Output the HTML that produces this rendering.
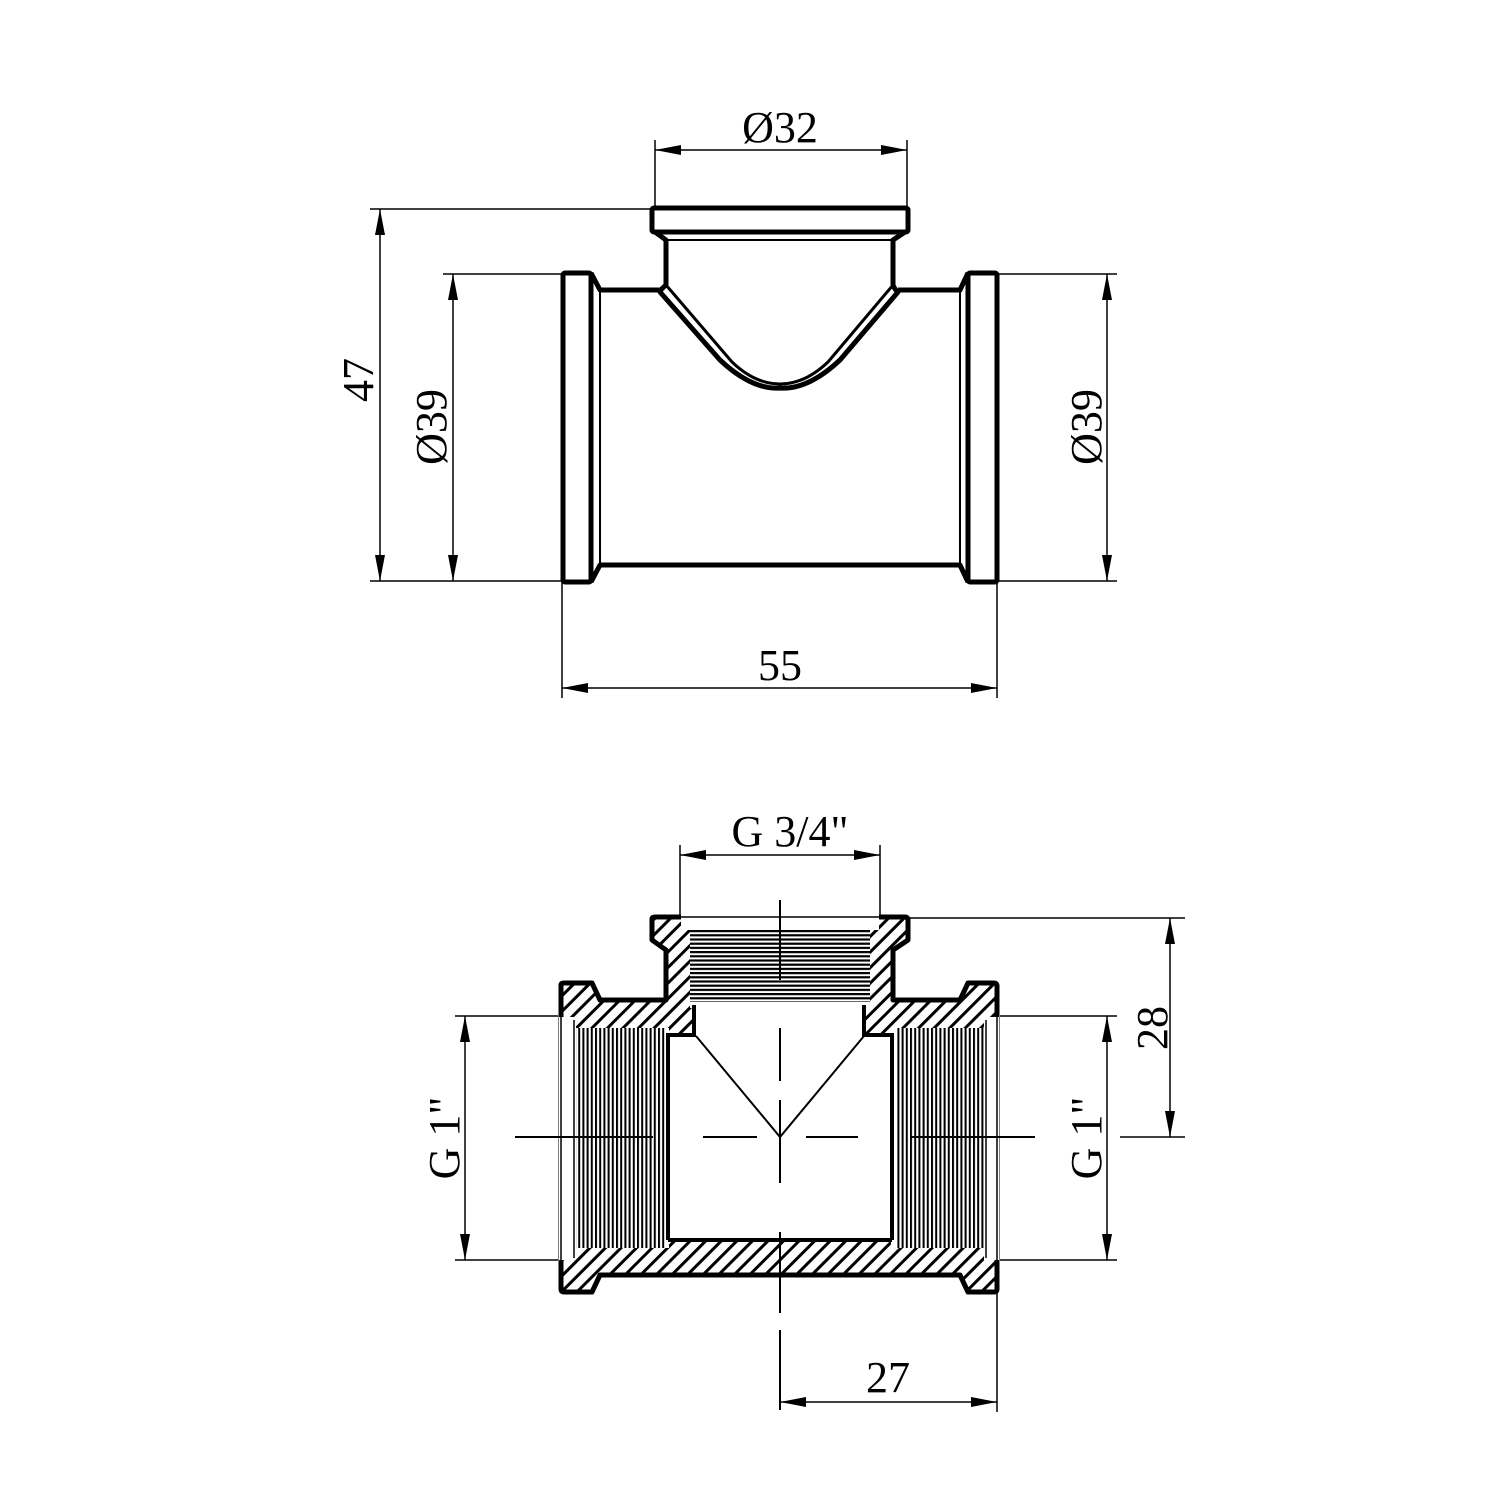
<!DOCTYPE html>
<html><head><meta charset="utf-8"><style>
html,body{margin:0;padding:0;background:#fff;}
svg{display:block}
text{font-family:"Liberation Serif",serif;font-size:44px;fill:#000}
</style></head><body>
<svg width="1500" height="1500" viewBox="0 0 1500 1500" xmlns="http://www.w3.org/2000/svg">
<defs>
<marker id="a" viewBox="0 0 26 10" refX="26" refY="5" markerWidth="26" markerHeight="10" markerUnits="userSpaceOnUse" orient="auto-start-reverse"><path d="M0,0 L26,5 L0,10 Z" fill="#000"/></marker>
<pattern id="h" patternUnits="userSpaceOnUse" width="11" height="11" patternTransform="rotate(45)"><rect x="0" y="0" width="3" height="11" fill="#000"/></pattern>
<pattern id="tv" patternUnits="userSpaceOnUse" width="4.2" height="10" x="574"><rect x="0" y="0" width="2" height="10" fill="#000"/></pattern>
<pattern id="th" patternUnits="userSpaceOnUse" width="10" height="4.2" y="930"><rect x="0" y="0" width="10" height="2.2" fill="#000"/></pattern>
</defs>

<g fill="none" stroke="#000" stroke-width="5" stroke-linejoin="round">
  <rect x="563" y="273" width="28" height="309" rx="2"/>
  <path d="M591,273 L600,290 L662,290 M591,582 L600,565 L960,565 L968,582"/>
  <rect x="968" y="273" width="29" height="309" rx="2"/>
  <path d="M968,273 L960,290 L898,290"/>
  <rect x="652" y="208" width="256" height="24" rx="2"/>
  <path d="M655,232 L666,240 L666,285 M905,232 L893,240 L893,285"/>
  <path d="M666,285 Q660,290 660,292 L720,360 Q752,390 780,388 Q808,390 840,360 L898,292 Q895,290 893,285"/>
  <path d="M666,285 L732,362 Q755,384 780,384 Q805,384 828,362 L893,285" stroke-width="3"/>
</g>
<g fill="none" stroke="#000" stroke-width="2">
  <line x1="600" y1="292" x2="600" y2="563"/>
  <line x1="960" y1="292" x2="960" y2="563"/>
  <line x1="668" y1="240" x2="891" y2="240"/>
</g>
<g stroke="#000" stroke-width="1.5" fill="none">
  <line x1="655" y1="140" x2="655" y2="210"/>
  <line x1="907" y1="140" x2="907" y2="210"/>
  <line x1="655" y1="150" x2="907" y2="150" marker-start="url(#a)" marker-end="url(#a)"/>
  <line x1="370" y1="209" x2="652" y2="209"/>
  <line x1="370" y1="581" x2="562" y2="581"/>
  <line x1="380" y1="209" x2="380" y2="581" marker-start="url(#a)" marker-end="url(#a)"/>
  <line x1="443" y1="274" x2="562" y2="274"/>
  <line x1="453" y1="274" x2="453" y2="581" marker-start="url(#a)" marker-end="url(#a)"/>
  <line x1="997" y1="274" x2="1117" y2="274"/>
  <line x1="997" y1="581" x2="1117" y2="581"/>
  <line x1="1107" y1="274" x2="1107" y2="581" marker-start="url(#a)" marker-end="url(#a)"/>
  <line x1="562" y1="582" x2="562" y2="698"/>
  <line x1="997" y1="582" x2="997" y2="698"/>
  <line x1="562" y1="688" x2="997" y2="688" marker-start="url(#a)" marker-end="url(#a)"/>
</g>
<text x="780" y="142" text-anchor="middle">Ø32</text>
<text transform="translate(373,380) rotate(-90)" text-anchor="middle">47</text>
<text transform="translate(446,427) rotate(-90)" text-anchor="middle">Ø39</text>
<text transform="translate(1101,427) rotate(-90)" text-anchor="middle">Ø39</text>
<text x="780" y="680" text-anchor="middle">55</text>

<path d="M561,985 Q561,983 564,983 L592,983 L600,1000 L666,1000 L666,950 L652,940 L652,919 Q652,917 655,917 L905,917 Q908,917 908,920 L908,940 L893,950 L893,1000 L960,1000 L968,983 L994,983 Q997,983 997,986 L997,1289 Q997,1292 994,1292 L968,1292 L960,1275 L600,1275 L592,1292 L564,1292 Q561,1292 561,1289 Z" fill="url(#h)" stroke="#000" stroke-width="5" stroke-linejoin="round"/>
<g fill="#fff" stroke="none">
  <rect x="681" y="912" width="198" height="18"/>
  <rect x="690" y="928" width="180" height="80"/>
  <rect x="694" y="1000" width="170" height="36"/>
  <rect x="559" y="1017" width="17" height="243"/>
  <rect x="574" y="1028" width="95" height="220"/>
  <rect x="666" y="1035" width="228" height="205"/>
  <rect x="891" y="1028" width="95" height="220"/>
  <rect x="984" y="1017" width="15" height="243"/>
</g>
<rect x="576" y="1028" width="90" height="220" fill="url(#tv)"/>
<rect x="896" y="1028" width="90" height="220" fill="url(#tv)"/>
<rect x="690" y="930" width="180" height="72" fill="url(#th)"/>
<g fill="none" stroke="#000" stroke-width="4">
  <path d="M694,1005 L694,1035 L668,1035 L668,1240 M864,1005 L864,1035 L892,1035 L892,1240 M668,1240 L892,1240"/>
</g>
<g stroke="#000" stroke-width="1.5">
  <line x1="561" y1="1017" x2="561" y2="1260"/>
  <line x1="997" y1="1017" x2="997" y2="1260"/>
  <line x1="574" y1="1020" x2="574" y2="1258"/>
  <line x1="986" y1="1020" x2="986" y2="1258"/>
  <line x1="681" y1="917" x2="879" y2="917"/>
</g>
<g stroke="#000" stroke-width="2" fill="none">
  <path d="M696,1036 L780,1137 L864,1036"/>
  <line x1="780" y1="900" x2="780" y2="980"/>
  <line x1="780" y1="1028" x2="780" y2="1081"/>
  <line x1="780" y1="1100" x2="780" y2="1183"/>
  <line x1="780" y1="1232" x2="780" y2="1313"/>
  <line x1="780" y1="1330" x2="780" y2="1410"/>
  <line x1="515" y1="1137" x2="653" y2="1137"/>
  <line x1="703" y1="1137" x2="757" y2="1137"/>
  <line x1="806" y1="1137" x2="858" y2="1137"/>
  <line x1="910" y1="1137" x2="1035" y2="1137"/>
</g>
<g stroke="#000" stroke-width="1.5" fill="none">
  <line x1="680" y1="845" x2="680" y2="918"/>
  <line x1="880" y1="845" x2="880" y2="918"/>
  <line x1="680" y1="855" x2="880" y2="855" marker-start="url(#a)" marker-end="url(#a)"/>
  <line x1="908" y1="918" x2="1185" y2="918"/>
  <line x1="1120" y1="1137" x2="1185" y2="1137"/>
  <line x1="1170" y1="918" x2="1170" y2="1137" marker-start="url(#a)" marker-end="url(#a)"/>
  <line x1="455" y1="1016" x2="558" y2="1016"/>
  <line x1="455" y1="1260" x2="558" y2="1260"/>
  <line x1="465" y1="1016" x2="465" y2="1260" marker-start="url(#a)" marker-end="url(#a)"/>
  <line x1="1000" y1="1016" x2="1117" y2="1016"/>
  <line x1="1000" y1="1260" x2="1117" y2="1260"/>
  <line x1="1107" y1="1016" x2="1107" y2="1260" marker-start="url(#a)" marker-end="url(#a)"/>
  <line x1="997" y1="1292" x2="997" y2="1412"/>
  <line x1="780" y1="1402" x2="997" y2="1402" marker-start="url(#a)" marker-end="url(#a)"/>
</g>
<text x="790" y="846" text-anchor="middle">G 3/4"</text>
<text transform="translate(1167,1028) rotate(-90)" text-anchor="middle">28</text>
<text transform="translate(459,1138) rotate(-90)" text-anchor="middle">G 1"</text>
<text transform="translate(1101,1138) rotate(-90)" text-anchor="middle">G 1"</text>
<text x="888" y="1392" text-anchor="middle">27</text>
</svg>
</body></html>
